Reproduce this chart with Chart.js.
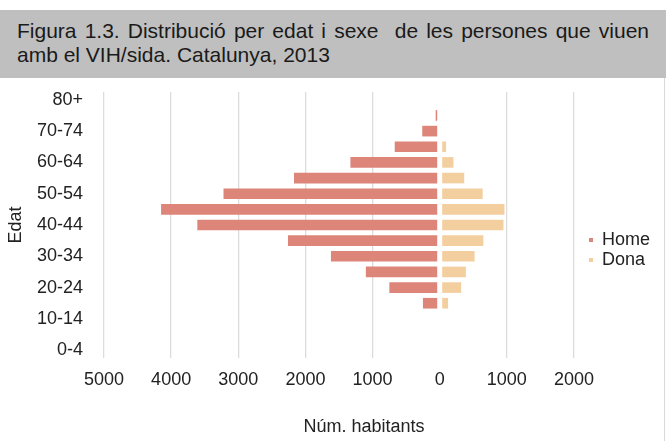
<!DOCTYPE html>
<html>
<head>
<meta charset="utf-8">
<script src="https://cdn.jsdelivr.net/npm/chart.js@4"></script>
<style>
    body { margin: 0; width: 667px; height: 441px; background: #fff; position: relative; overflow: hidden; }
    #title {
        position: absolute; left: 0; top: 10px; width: 666px; height: 68px;
        box-sizing: border-box; padding: 9px 17px 0 17px;
        background: #bfbfbf; color: #1a1a1a;
        font-family: 'Liberation Sans', Arial, sans-serif; font-size: 21px; line-height: 24px;
    }
    #title .l1 { text-align: justify; text-align-last: justify; white-space: pre-wrap; }
    #chartBox { position: absolute; left: 0; top: 78px; width: 660px; height: 363px; }
    #frame { position: absolute; left: 664px; top: 78px; width: 1px; height: 363px; background: #d9d9d9; }
</style>
</head>
<body>
<div id="title">
    <div class="l1">Figura 1.3. Distribució per edat i sexe  de les persones que viuen</div>
    <div>amb el VIH/sida. Catalunya, 2013</div>
</div>
<div id="chartBox"><canvas id="pyramid" width="660" height="363"></canvas></div>
<div id="frame"></div>
<script>
// age groups, youngest first
const ageGroups = ['0-4', '5-9', '10-14', '15-19', '20-24', '25-29', '30-34', '35-39', '40-44',
    '45-49', '50-54', '55-59', '60-64', '65-69', '70-74', '75-79', '80+'];
const homeValues = [0, 0, 0, 250, 750, 1100, 1620, 2260, 3610, 4150, 3220, 2170, 1330, 670, 260, 60, 0];
const donaValues = [0, 0, 0, 125, 320, 390, 520, 650, 950, 965, 640, 365, 205, 95, 0, 0, 0];
const xTicks = [-5000, -4000, -3000, -2000, -1000, 0, 1000, 2000];

const GAP = 37; // white gap either side of zero

Chart.defaults.font.family = "'Liberation Sans', Arial, sans-serif";
Chart.defaults.font.size = 18;
Chart.defaults.color = '#222';

const ctx = document.getElementById('pyramid').getContext('2d');

new Chart(ctx, {
    type: 'bar',
    data: {
        labels: ageGroups,
        datasets: [
            {
                label: 'Home',
                data: homeValues.map(v => v ? [-v, -GAP] : null),
                backgroundColor: '#de857a',
                borderWidth: 0
            },
            {
                label: 'Dona',
                data: donaValues.map(v => v ? [GAP, v] : null),
                backgroundColor: '#f3cf9f',
                borderWidth: 0
            }
        ]
    },
    options: {
        indexAxis: 'y',
        responsive: false,
        animation: false,
        grouped: false,
        categoryPercentage: 1,
        barPercentage: 0.68,
        layout: { padding: { top: 14, left: 5, right: 0, bottom: 0 } },
        scales: {
            x: {
                min: xTicks[0],
                max: xTicks[xTicks.length - 1],
                afterBuildTicks: scale => { scale.ticks = xTicks.map(v => ({ value: v })); },
                ticks: {
                    padding: 11,
                    callback: v => String(Math.abs(v))
                },
                grid: {
                    drawTicks: false,
                    lineWidth: 1.3,
                    color: c => (c.tick && c.tick.value === 0) ? 'rgba(0,0,0,0)' : '#dcdcdc'
                },
                border: { display: false },
                title: {
                    display: true,
                    // leading spaces push the title a bit right of the plot centre, as in the original
                    text: '\u00a0'.repeat(10) + 'Núm. habitants',
                    padding: { top: 14.6, bottom: 3.2 }
                }
            },
            y: {
                reverse: true,
                ticks: {
                    autoSkip: false,
                    padding: 21,
                    callback: (v, i) => i % 2 === 0 ? ageGroups[i] : ''
                },
                grid: { display: false, drawTicks: false },
                border: { display: false },
                title: {
                    display: true,
                    text: 'Edat',
                    padding: { top: 0, bottom: 9 }
                },
                // fixed axis width, labels fit inside the category offset
                afterFit: scale => {
                    scale.width = 99;
                    scale.paddingTop = 0;
                    scale.paddingBottom = 0;
                }
            },
            gap: {
                type: 'category',
                position: 'right',
                ticks: { display: false },
                grid: { display: false, drawTicks: false },
                border: { display: false },
                afterFit: scale => { scale.width = 13; }
            }
        },
        plugins: {
            tooltip: { enabled: false },
            legend: {
                position: 'right',
                align: 'start',
                title: { display: true, text: '', font: { size: 10 }, padding: { top: 125, bottom: 0 } },
                labels: {
                    boxWidth: 4,
                    boxHeight: 4,
                    padding: 2
                }
            }
        }
    }
});
</script>
</body>
</html>
